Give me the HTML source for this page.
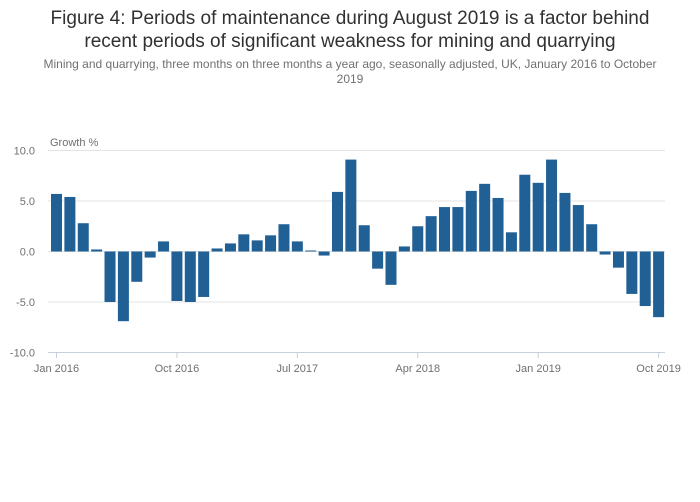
<!DOCTYPE html>
<html><head><meta charset="utf-8"><style>
body{margin:0;background:#fff;font-family:"Liberation Sans",sans-serif;}
#wrap{position:relative;width:700px;height:502px;overflow:hidden}
h1{position:absolute;top:7px;left:0;width:700px;margin:0;text-align:center;font-size:19px;font-weight:normal;color:#323132;line-height:23px}
h2{position:absolute;top:57px;left:0;width:700px;margin:0;text-align:center;font-size:12px;font-weight:normal;color:#707070;line-height:15px}
</style></head><body>
<div id="wrap">
<h1>Figure 4: Periods of maintenance during August 2019 is a factor behind<br>recent periods of significant weakness for mining and quarrying</h1>
<h2>Mining and quarrying, three months on three months a year ago, seasonally adjusted, UK, January 2016 to October<br>2019</h2>
<svg id="svg" width="700" height="502" style="position:absolute;left:0;top:0"></svg>
</div>
<script>
const values=[5.7,5.4,2.8,0.2,-5.0,-6.9,-3.0,-0.6,1.0,-4.9,-5.0,-4.5,0.3,0.8,1.7,1.1,1.6,2.7,1.0,0.1,-0.4,5.9,9.1,2.6,-1.7,-3.3,0.5,2.5,3.5,4.4,4.4,6.0,6.7,5.3,1.9,7.6,6.8,9.1,5.8,4.6,2.7,-0.3,-1.6,-4.2,-5.4,-6.5];
const yTicks=[10,5,0,-5,-10];
const yTickLabels=["10.0","5.0","0.0","-5.0","-10.0"];
const xTickIdx=[0,9,18,27,36,45];
const xTickLabels=["Jan 2016","Oct 2016","Jul 2017","Apr 2018","Jan 2019","Oct 2019"];
const NS="http://www.w3.org/2000/svg",svg=document.getElementById('svg');
const x0=56.5,step=13.38,bw=11;
const y=v=>251.5-v*10.1;
const x=i=>x0+i*step;
function mk(t,a){const e=document.createElementNS(NS,t);for(const k in a)e.setAttribute(k,a[k]);svg.appendChild(e);return e;}
yTicks.forEach((t,i)=>{
 if(t!==-10){const l=mk('line',{x1:48,x2:665,y1:y(t),y2:y(t),stroke:'#e3e3e3','stroke-width':1});
 
 }
 const tx=mk('text',{x:35,y:y(t)+4,'text-anchor':'end','font-size':11,fill:'#707070'});
 tx.textContent=yTickLabels[i];
 
 
});
const yt=mk('text',{x:50,y:146,'font-size':11,fill:'#707070'});yt.textContent='Growth %';


values.forEach((v,i)=>{
 const r=mk('rect',{x:x(i)-bw/2,y:Math.min(y(v),y(0)),width:bw,height:Math.abs(y(v)-y(0)),fill:'#206095'});
 
 
});
const ax=mk('line',{x1:48,x2:665,y1:352.5,y2:352.5,stroke:'#c6cfdb','stroke-width':1});


xTickIdx.forEach((idx,i)=>{
 const tk=mk('line',{x1:x(idx),x2:x(idx),y1:352,y2:358,stroke:'#c6cfdb'});
 
 
 const t=mk('text',{x:x(idx),y:372,'text-anchor':'middle','font-size':11,fill:'#707070'});
 t.textContent=xTickLabels[i];
 
 
});
</script>
</body></html>
